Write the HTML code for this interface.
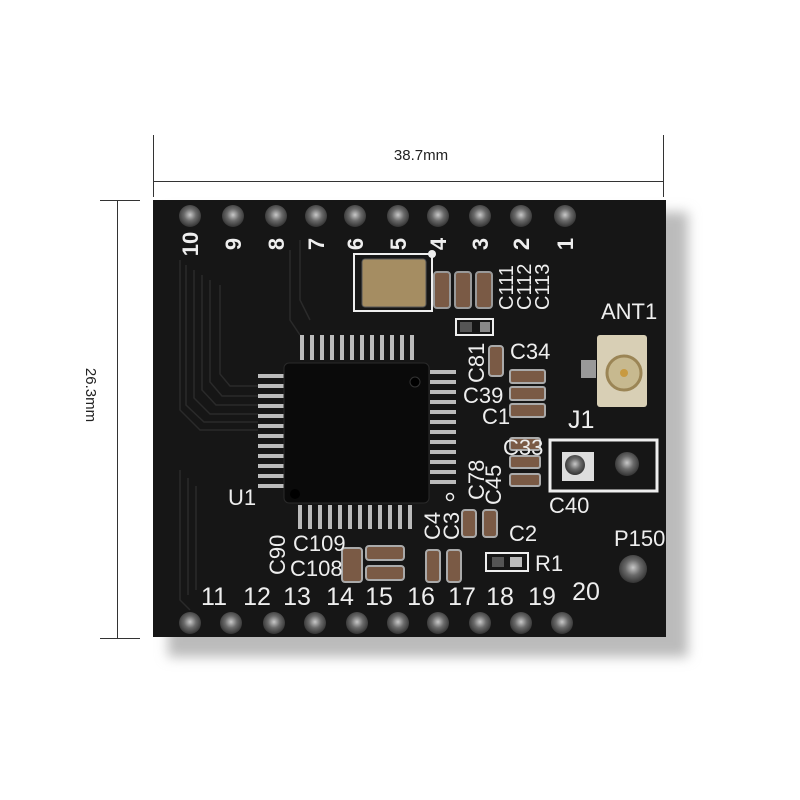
<!DOCTYPE html>
<html><head><style>html,body{margin:0;padding:0;background:#fff;}svg{display:block}.n{font-family:"Liberation Sans Narrow","Liberation Sans",sans-serif}</style></head>
<body>
<svg width="800" height="800" viewBox="0 0 800 800" xmlns="http://www.w3.org/2000/svg" font-family="Liberation Sans, sans-serif">
<defs>
<filter id="sh" x="-10%" y="-10%" width="130%" height="130%"><feGaussianBlur stdDeviation="6"/></filter>
<radialGradient id="pad" cx="50%" cy="45%" r="55%"><stop offset="0" stop-color="#c8c8c8"/><stop offset="0.5" stop-color="#6a6a6a"/><stop offset="1" stop-color="#333"/></radialGradient>
</defs>
<rect width="800" height="800" fill="#fff"/>
<g stroke="#333" stroke-width="1" fill="none">
<line x1="153.5" y1="135" x2="153.5" y2="197"/>
<line x1="663.5" y1="135" x2="663.5" y2="197"/>
<line x1="153" y1="181.5" x2="663" y2="181.5"/>
<line x1="100" y1="200.5" x2="140" y2="200.5"/>
<line x1="100" y1="638.5" x2="140" y2="638.5"/>
<line x1="117.5" y1="200" x2="117.5" y2="638"/>
</g>
<text x="421" y="160" font-size="15" fill="#222" text-anchor="middle">38.7mm</text>
<text transform="translate(86,395) rotate(90)" font-size="15" fill="#222" text-anchor="middle">26.3mm</text>
<rect x="168" y="212" width="520" height="445" fill="#bbb" filter="url(#sh)"/>
<rect x="153" y="200" width="513" height="437" fill="#161616"/>
<g stroke="#2a2a2a" stroke-width="1.5" fill="none">
<path d="M180 260 V410 L200 430 H258"/><path d="M186 265 V405 L204 422 H258"/>
<path d="M194 270 V398 L210 414 H258"/><path d="M202 275 V390 L216 405 H258"/>
<path d="M210 280 V382 L222 396 H258"/><path d="M220 285 V374 L230 386 H258"/>
<path d="M180 470 V600 L190 610"/><path d="M188 478 V595"/><path d="M196 486 V590"/>
<path d="M300 240 V300 L310 320"/><path d="M290 250 V320 L300 335"/>
</g>
<g fill="url(#pad)">
<circle cx="190" cy="216" r="11"/><circle cx="233" cy="216" r="11"/><circle cx="276" cy="216" r="11"/><circle cx="316" cy="216" r="11"/><circle cx="355" cy="216" r="11"/><circle cx="398" cy="216" r="11"/><circle cx="438" cy="216" r="11"/><circle cx="480" cy="216" r="11"/><circle cx="521" cy="216" r="11"/><circle cx="565" cy="216" r="11"/>
<circle cx="190" cy="623" r="11"/><circle cx="231" cy="623" r="11"/><circle cx="274" cy="623" r="11"/><circle cx="315" cy="623" r="11"/><circle cx="357" cy="623" r="11"/><circle cx="398" cy="623" r="11"/><circle cx="438" cy="623" r="11"/><circle cx="480" cy="623" r="11"/><circle cx="521" cy="623" r="11"/><circle cx="562" cy="623" r="11"/>
</g>
<g fill="#eee" font-size="22" font-weight="bold" text-anchor="middle">
<text transform="translate(198,244) rotate(-90)">10</text><text transform="translate(241,244) rotate(-90)">9</text><text transform="translate(284,244) rotate(-90)">8</text><text transform="translate(324,244) rotate(-90)">7</text><text transform="translate(363,244) rotate(-90)">6</text><text transform="translate(406,244) rotate(-90)">5</text><text transform="translate(446,244) rotate(-90)">4</text><text transform="translate(488,244) rotate(-90)">3</text><text transform="translate(529,244) rotate(-90)">2</text><text transform="translate(573,244) rotate(-90)">1</text>
</g>
<g class="n" fill="#eee" font-size="25" text-anchor="middle">
<text x="214" y="605">11</text><text x="257" y="605">12</text><text x="297" y="605">13</text><text x="340" y="605">14</text><text x="379" y="605">15</text><text x="421" y="605">16</text><text x="462" y="605">17</text><text x="500" y="605">18</text><text x="542" y="605">19</text><text x="586" y="600">20</text>
</g>
<rect x="354" y="254" width="78" height="57" fill="none" stroke="#eee" stroke-width="2"/>
<rect x="362" y="259" width="64" height="48" rx="3" fill="#a58d62" stroke="#555"/>
<circle cx="432" cy="254" r="4" fill="#eee"/>
<g fill="#7a5a45" stroke="#999" stroke-width="2">
<rect x="434" y="272" width="16" height="36" rx="3"/><rect x="455" y="272" width="16" height="36" rx="3"/><rect x="476" y="272" width="16" height="36" rx="3"/>
</g>
<g class="n" fill="#eee" font-size="20">
<text transform="translate(513,310) rotate(-90)">C111</text><text transform="translate(531,310) rotate(-90)">C112</text><text transform="translate(549,310) rotate(-90)">C113</text>
</g>
<rect x="456" y="319" width="37" height="16" fill="none" stroke="#eee" stroke-width="2"/>
<rect x="460" y="322" width="12" height="10" fill="#555"/><rect x="480" y="322" width="10" height="10" fill="#888"/>
<g fill="#bbb">
<rect x="300" y="335" width="4" height="25"/><rect x="310" y="335" width="4" height="25"/><rect x="320" y="335" width="4" height="25"/><rect x="330" y="335" width="4" height="25"/><rect x="340" y="335" width="4" height="25"/><rect x="350" y="335" width="4" height="25"/><rect x="360" y="335" width="4" height="25"/><rect x="370" y="335" width="4" height="25"/><rect x="380" y="335" width="4" height="25"/><rect x="390" y="335" width="4" height="25"/><rect x="400" y="335" width="4" height="25"/><rect x="410" y="335" width="4" height="25"/>
<rect x="298" y="505" width="4" height="24"/><rect x="308" y="505" width="4" height="24"/><rect x="318" y="505" width="4" height="24"/><rect x="328" y="505" width="4" height="24"/><rect x="338" y="505" width="4" height="24"/><rect x="348" y="505" width="4" height="24"/><rect x="358" y="505" width="4" height="24"/><rect x="368" y="505" width="4" height="24"/><rect x="378" y="505" width="4" height="24"/><rect x="388" y="505" width="4" height="24"/><rect x="398" y="505" width="4" height="24"/><rect x="408" y="505" width="4" height="24"/>
<rect x="258" y="374" width="26" height="4"/><rect x="258" y="384" width="26" height="4"/><rect x="258" y="394" width="26" height="4"/><rect x="258" y="404" width="26" height="4"/><rect x="258" y="414" width="26" height="4"/><rect x="258" y="424" width="26" height="4"/><rect x="258" y="434" width="26" height="4"/><rect x="258" y="444" width="26" height="4"/><rect x="258" y="454" width="26" height="4"/><rect x="258" y="464" width="26" height="4"/><rect x="258" y="474" width="26" height="4"/><rect x="258" y="484" width="26" height="4"/>
<rect x="430" y="370" width="26" height="4"/><rect x="430" y="380" width="26" height="4"/><rect x="430" y="390" width="26" height="4"/><rect x="430" y="400" width="26" height="4"/><rect x="430" y="410" width="26" height="4"/><rect x="430" y="420" width="26" height="4"/><rect x="430" y="430" width="26" height="4"/><rect x="430" y="440" width="26" height="4"/><rect x="430" y="450" width="26" height="4"/><rect x="430" y="460" width="26" height="4"/><rect x="430" y="470" width="26" height="4"/><rect x="430" y="480" width="26" height="4"/>
</g>
<rect x="284" y="363" width="145" height="140" rx="5" fill="#0a0a0a" stroke="#2a2a2a"/>
<circle cx="415" cy="382" r="5" fill="#000" stroke="#333"/><circle cx="295" cy="494" r="5" fill="#000"/>
<text class="n" x="228" y="505" fill="#eee" font-size="22">U1</text>
<g fill="#7a5a45" stroke="#aaa" stroke-width="2">
<rect x="489" y="346" width="14" height="30" rx="3"/>
<rect x="510" y="370" width="35" height="13" rx="2"/><rect x="510" y="387" width="35" height="13" rx="2"/><rect x="510" y="404" width="35" height="13" rx="2"/>
<rect x="510" y="438" width="30" height="12" rx="2"/><rect x="510" y="456" width="30" height="12" rx="2"/><rect x="510" y="474" width="30" height="12" rx="2"/>
<rect x="462" y="510" width="14" height="27" rx="3"/><rect x="483" y="510" width="14" height="27" rx="3"/>
<rect x="342" y="548" width="20" height="34" rx="3"/><rect x="366" y="546" width="38" height="14" rx="3"/><rect x="366" y="566" width="38" height="14" rx="3"/>
<rect x="426" y="550" width="14" height="32" rx="3"/><rect x="447" y="550" width="14" height="32" rx="3"/>
</g>
<g class="n" fill="#eee" font-size="22">
<text x="510" y="359">C34</text><text transform="translate(484,383) rotate(-90)">C81</text>
<text x="463" y="403">C39</text><text x="482" y="424">C1</text>
<text x="503" y="455">C33</text><text x="549" y="513">C40</text>
<text transform="translate(484,500) rotate(-90)">C78</text><text transform="translate(501,505) rotate(-90)">C45</text>
<text transform="translate(440,540) rotate(-90)">C4</text><text transform="translate(459,540) rotate(-90)">C3</text>
<text x="509" y="541">C2</text><text x="293" y="551">C109</text><text x="290" y="576">C108</text>
<text transform="translate(285,575) rotate(-90)">C90</text><text x="535" y="571">R1</text>
<text x="568" y="428" font-size="25">J1</text><text x="601" y="319">ANT1</text><text x="614" y="546">P150</text>
</g>
<circle cx="450" cy="497" r="3.5" fill="none" stroke="#eee" stroke-width="1.5"/>
<rect x="486" y="553" width="42" height="18" fill="none" stroke="#eee" stroke-width="2"/>
<rect x="492" y="557" width="12" height="10" fill="#555"/><rect x="510" y="557" width="12" height="10" fill="#bbb"/>
<rect x="581" y="360" width="15" height="18" fill="#999"/>
<rect x="597" y="335" width="50" height="72" rx="3" fill="#d8cfb5"/>
<circle cx="624" cy="373" r="17" fill="#c7b98f" stroke="#9b8555" stroke-width="3"/>
<circle cx="624" cy="373" r="4" fill="#c89a40"/>
<rect x="550" y="440" width="107" height="51" fill="none" stroke="#eee" stroke-width="3"/>
<rect x="562" y="452" width="32" height="29" fill="#ddd"/>
<circle cx="575" cy="465" r="10" fill="url(#pad)"/>
<circle cx="627" cy="464" r="12" fill="url(#pad)"/>
<circle cx="633" cy="569" r="14" fill="url(#pad)"/>
</svg>
</body></html>
